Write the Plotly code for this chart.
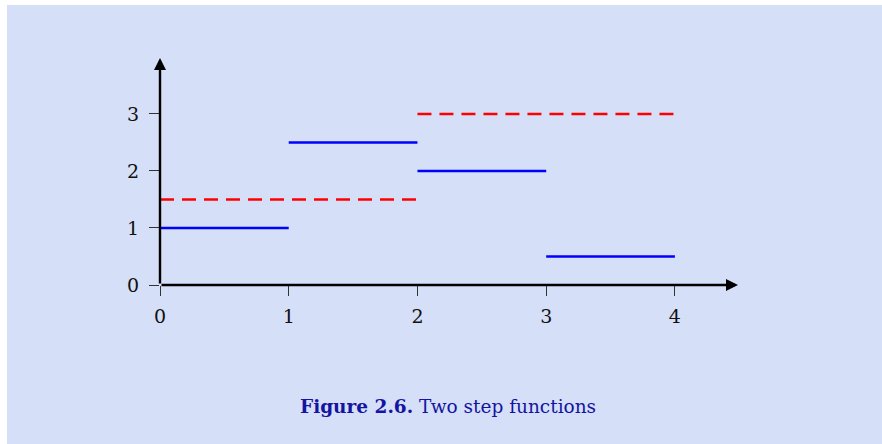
import plotly.graph_objects as go

# Step function data
blue_starts = [0, 1, 2, 3]
blue_ends = [1, 2, 3, 4]
blue_values = [1, 2.5, 2, 0.5]

red_starts = [0, 2]
red_ends = [2, 4]
red_values = [1.5, 3]

x_ticks = [0, 1, 2, 3, 4]
y_ticks = [0, 1, 2, 3]
caption_bold = "Figure 2.6."
caption_text = "Two step functions"

def segs(starts, ends, vals):
    xs, ys = [], []
    for a, b, v in zip(starts, ends, vals):
        xs += [a, b, None]
        ys += [v, v, None]
    return xs, ys

BG = "#d5dff8"
TXT = "#1414a0"
FONT = "DejaVu Serif"

bx, by = segs(blue_starts, blue_ends, blue_values)
rx, ry = segs(red_starts, red_ends, red_values)

fig = go.Figure()
fig.add_trace(go.Scatter(x=rx, y=ry, mode="lines",
                         line=dict(color="#ff0000", width=2.5, dash="14px,8px"),
                         hoverinfo="skip", showlegend=False))
fig.add_trace(go.Scatter(x=bx, y=by, mode="lines",
                         line=dict(color="#0000ff", width=2.5),
                         hoverinfo="skip", showlegend=False))

W, H = 882, 444
ml, mr, mt, mb = 160, 144, 58, 159
xmax = 4.49
ymax = 3.98

# axes arrows
fig.add_annotation(x=xmax, y=0, ax=0, ay=0, xref="x", yref="y", axref="x", ayref="y",
                   showarrow=True, arrowhead=2, arrowsize=1.0, arrowwidth=2.4,
                   arrowcolor="black", text="", standoff=0)
fig.add_annotation(x=0, y=ymax, ax=0, ay=0, xref="x", yref="y", axref="x", ayref="y",
                   showarrow=True, arrowhead=2, arrowsize=1.0, arrowwidth=2.4,
                   arrowcolor="black", text="", standoff=0)

# background with white border strip (top & left)
pw = W - ml - mr
ph = H - mt - mb
def px_to_paper_x(p):
    return (p - ml) / pw
def px_to_paper_y(p):
    return 1 - (p - mt) / ph
fig.add_shape(type="rect", xref="paper", yref="paper",
              x0=px_to_paper_x(7), x1=px_to_paper_x(W + 5),
              y0=px_to_paper_y(H + 5), y1=px_to_paper_y(5),
              fillcolor=BG, line=dict(width=0), layer="below")

fig.add_annotation(x=px_to_paper_x(448), y=px_to_paper_y(406), xref="paper", yref="paper",
                   text=f"<b>{caption_bold}</b> {caption_text}", showarrow=False,
                   font=dict(family=FONT, size=18.5, color=TXT), xanchor="center", yanchor="middle")

fig.update_xaxes(range=[0, xmax], tickvals=x_ticks, ticktext=[str(t) for t in x_ticks],
                 ticks="outside", ticklen=10, tickwidth=1.2, tickcolor="#333",
                 ticklabelstandoff=4,
                 showgrid=False, zeroline=False, showline=False,
                 tickfont=dict(family=FONT, size=19, color="#111"))
fig.update_yaxes(range=[0, ymax], tickvals=y_ticks, ticktext=[str(t) for t in y_ticks],
                 ticks="outside", ticklen=10, tickwidth=1.2, tickcolor="#333",
                 ticklabelstandoff=6,
                 showgrid=False, zeroline=False, showline=False,
                 tickfont=dict(family=FONT, size=19, color="#111"))

fig.update_layout(width=W, height=H, margin=dict(l=ml, r=mr, t=mt, b=mb),
                  paper_bgcolor="white", plot_bgcolor="rgba(0,0,0,0)")

fig.write_html("out.html", config={"displayModeBar": False},
               post_script="document.body.style.margin='0';")
